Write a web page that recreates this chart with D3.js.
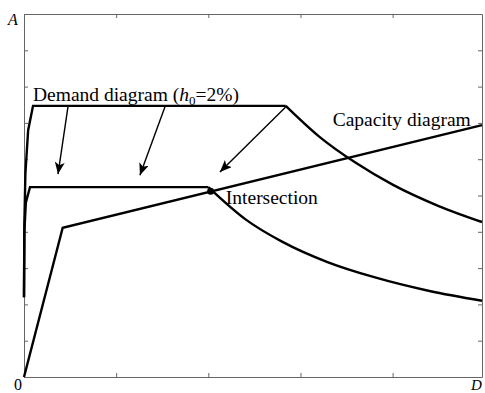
<!DOCTYPE html>
<html lang="en">
<head>
  <meta charset="UTF-8">
  <title>Capacity / demand diagram</title>
  <script src="https://d3js.org/d3.v7.min.js"></script>
  <style>
    body { margin: 0; background: #fff; }
    text { font-family: "Liberation Serif", "DejaVu Serif", serif; fill: #000; }
  </style>
</head>
<body>
<script>
// capacity curve (D, A)
var capacity = [[0, 0], [0.42, 4.11], [4.97, 6.94]];

// demand, h0 = 2% : ramp + plateau, then decaying branch
var demandHighRamp = [[0, 2.2], [0.004, 4.2], [0.015, 5.6], [0.045, 6.8], [0.098, 7.47], [2.84, 7.47]];
var demandHighTail = [[2.84, 7.47], [3.2, 6.63], [3.6, 5.9], [4.0, 5.3], [4.5, 4.71], [4.97, 4.27]];

// demand reduced (lower curve)
var demandLowRamp = [[0, 2.2], [0.004, 4.0], [0.02, 4.8], [0.065, 5.23], [2.0, 5.23]];
var demandLowTail = [[2.0, 5.23], [2.4, 4.35], [2.8, 3.73], [3.3, 3.16], [3.8, 2.75], [4.4, 2.37], [4.97, 2.10]];

var intersection = [2.025, 5.12];

// arrows: [from, to]
var arrows = [
  [[0.477, 7.44], [0.369, 5.59]],
  [[1.529, 7.44], [1.258, 5.56]],
  [[2.84, 7.44], [2.126, 5.65]]
];

var xTicks = [0, 1, 2, 3, 4];
var yTicks = [0, 1, 2, 3, 4, 5, 6, 7, 8, 9, 10];

var width = 485, height = 393,
    margin = {top: 14, right: 3, bottom: 16, left: 24};

var svg = d3.select("body").append("svg")
    .attr("width", width)
    .attr("height", height);

var x = d3.scaleLinear().domain([0, 4.97]).range([margin.left, width - margin.right]);
var y = d3.scaleLinear().domain([0, 10]).range([height - margin.bottom, margin.top]);

// frame with inward ticks on four sides
function frameAxis(axis, tx, ty) {
  svg.append("g")
      .attr("transform", "translate(" + tx + "," + ty + ")")
      .call(axis)
      .call(function(g) {
        g.select(".domain").attr("stroke", "#666");
        g.selectAll(".tick line").attr("stroke", "#666");
        g.selectAll(".tick text").remove();
      });
}
frameAxis(d3.axisBottom(x).tickValues(xTicks).tickSizeInner(-4).tickSizeOuter(0), 0, y(0));
frameAxis(d3.axisTop(x).tickValues(xTicks).tickSizeInner(-4).tickSizeOuter(0), 0, y(10));
frameAxis(d3.axisLeft(y).tickValues(yTicks).tickSizeInner(-4).tickSizeOuter(0), x(0), 0);
frameAxis(d3.axisRight(y).tickValues(yTicks).tickSizeInner(-4).tickSizeOuter(0), x(4.97), 0);

var line = d3.line().x(function(d) { return x(d[0]); }).y(function(d) { return y(d[1]); });
var smooth = d3.line().curve(d3.curveMonotoneX).x(function(d) { return x(d[0]); }).y(function(d) { return y(d[1]); });

[[capacity, line], [demandHighRamp, line], [demandHighTail, smooth],
 [demandLowRamp, line], [demandLowTail, smooth]].forEach(function(p) {
  svg.append("path")
      .attr("d", p[1](p[0]))
      .attr("fill", "none")
      .attr("stroke", "#000")
      .attr("stroke-width", 2.4)
      .attr("stroke-linejoin", "miter");
});

svg.append("circle")
    .attr("cx", x(intersection[0]))
    .attr("cy", y(intersection[1]))
    .attr("r", 3.5)
    .attr("fill", "#000");

// arrows
svg.append("defs").append("marker")
    .attr("id", "head")
    .attr("viewBox", "0 0 12 10")
    .attr("refX", 12).attr("refY", 5)
    .attr("markerWidth", 12).attr("markerHeight", 10)
    .attr("markerUnits", "userSpaceOnUse")
    .attr("orient", "auto")
  .append("path")
    .attr("d", "M0,0L12,5L0,10L3,5Z")
    .attr("fill", "#000");

arrows.forEach(function(a) {
  svg.append("line")
      .attr("x1", x(a[0][0])).attr("y1", y(a[0][1]))
      .attr("x2", x(a[1][0])).attr("y2", y(a[1][1]))
      .attr("stroke", "#000")
      .attr("stroke-width", 1.4)
      .attr("marker-end", "url(#head)");
});

// labels
var demandLabel = svg.append("text")
    .attr("x", x(0.098)).attr("y", y(7.6))
    .attr("font-size", 19.5);
demandLabel.append("tspan").text("Demand diagram (");
demandLabel.append("tspan").attr("font-style", "italic").text("h");
demandLabel.append("tspan").attr("font-size", 13).attr("dy", 4).text("0");
demandLabel.append("tspan").attr("dy", -4).text("=2%)");

svg.append("text")
    .attr("x", x(3.35)).attr("y", y(6.91))
    .attr("font-size", 19.5)
    .text("Capacity diagram");

svg.append("text")
    .attr("x", x(2.19)).attr("y", y(4.77))
    .attr("font-size", 19.5)
    .text("Intersection");

svg.append("text")
    .attr("x", 8).attr("y", 25)
    .attr("font-size", 16).attr("font-style", "italic")
    .text("A");

svg.append("text")
    .attr("x", 14).attr("y", 390)
    .attr("font-size", 16)
    .text("0");

svg.append("text")
    .attr("x", 471).attr("y", 390)
    .attr("font-size", 15).attr("font-style", "italic")
    .text("D");
</script>
</body>
</html>
